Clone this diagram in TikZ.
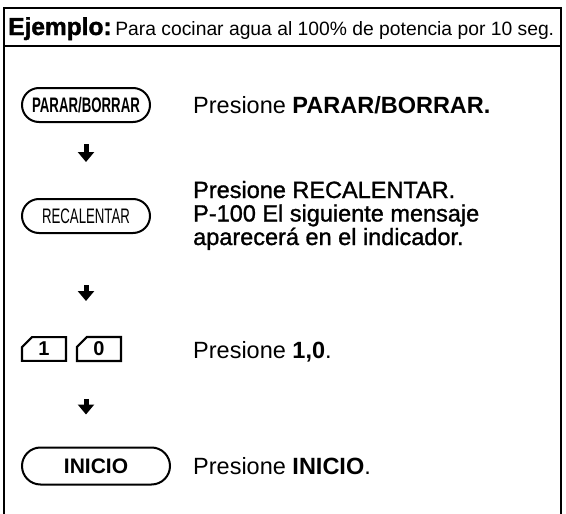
\documentclass[tikz,border=0pt]{standalone}
\usepackage{fontspec}
\setmainfont{Liberation Sans}
\newfontfamily\medio[FakeBold=1.2]{Liberation Sans}
\newfontfamily\grueso[FakeBold=1.5]{Liberation Sans}
\newfontfamily\estrecha[FakeStretch=0.63]{Liberation Sans}
\usetikzlibrary{arrows.meta,shapes.misc,positioning}

\tikzset{
    marco/.style={line width=2pt},
    boton/.style={draw,line width=2pt,rounded rectangle,inner sep=0pt,
        minimum width=128pt,minimum height=34pt},
    tecla/.style={draw,line width=2.2pt,chamfered rectangle,
        chamfered rectangle corners=north west,chamfered rectangle xsep=5pt,
        chamfered rectangle ysep=5pt,inner sep=0pt,
        minimum width=44pt,minimum height=23pt,
        font=\fontsize{20}{20}\selectfont\bfseries},
    flecha/.style={line width=5pt,-{Triangle[width=16pt,length=10pt]}},
    paso/.style={anchor=base west,inner sep=0pt,font=\fontsize{23.5}{23.5}\selectfont}
}

\begin{document}
\begin{tikzpicture}[x=1pt,y=-1pt]
\useasboundingbox (0,0) rectangle (566,514);

\draw[marco] (4,514) |- (561,8) -- (561,514);
\draw[marco] (4,46) -- (561,46);
\node[anchor=base west,inner sep=0pt] (ejemplo) at (8,35)
    {{\fontsize{24.5}{24.5}\selectfont\grueso\bfseries Ejemplo:} \fontsize{19.3}{19.3}\selectfont Para cocinar agua al 100\% de potencia por 10 seg.};

\node[boton,font=\fontsize{21}{21}\selectfont\estrecha\bfseries] (parar) at (86,105) {PARAR/BORRAR};
\node[boton,font=\fontsize{21}{21}\selectfont\estrecha] (recal) at (86,216) {RECALENTAR};
\node[tecla] (uno) at (44,349) {1};
\node[tecla] (cero) at (99,349) {0};
\node[boton,minimum width=148pt,minimum height=37pt,font=\fontsize{21}{21}\selectfont\bfseries] (inicio) at (96,466) {INICIO};

\draw[flecha,shorten <=21pt,shorten >=36pt] (parar) -- (recal);
\draw[flecha,shorten <=51pt,shorten >=35pt] (recal.south) -- (recal.south |- uno.north);
\draw[flecha,shorten <=37pt,shorten >=32pt] (recal.south |- uno.south) -- (recal.south |- inicio.north);

\node[paso] (t1) at (193,113) {Presione \textbf{PARAR/BORRAR.}};
\node[paso,font=\fontsize{23.5}{23.5}\selectfont\medio] (t2) at (193,198) {Presione RECALENTAR.};
\node[paso,font=\fontsize{23.5}{23.5}\selectfont\medio] (t3) at (193,221.5) {P-100 El siguiente mensaje};
\node[paso,font=\fontsize{23.5}{23.5}\selectfont\medio] (t4) at (193,245) {aparecerá en el indicador.};
\node[paso] (t5) at (193,358) {Presione \textbf{1,0}.};
\node[paso] (t6) at (193,474) {Presione \textbf{INICIO}.};
\end{tikzpicture}
\end{document}
